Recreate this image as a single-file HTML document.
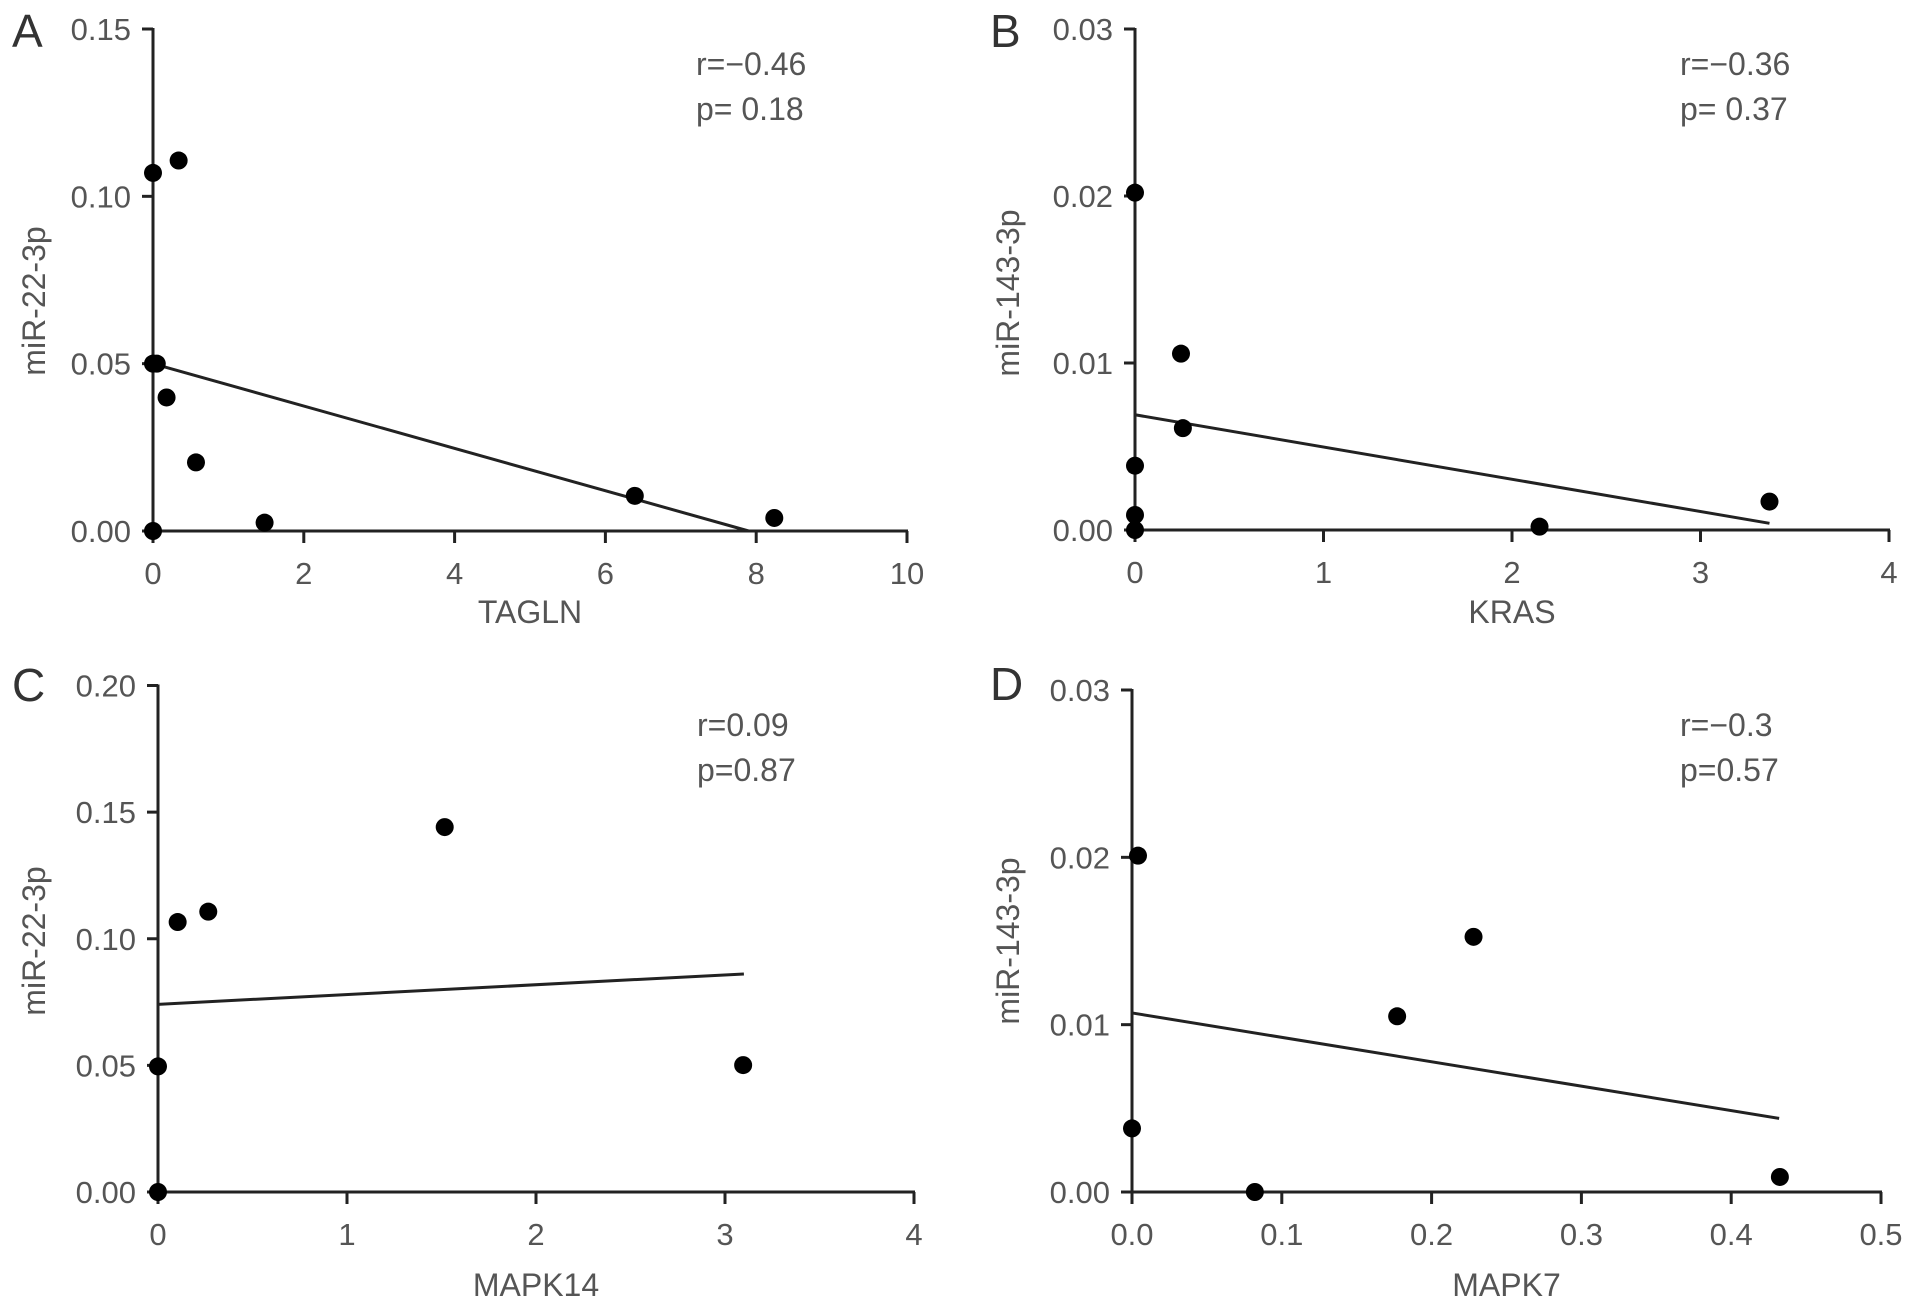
<!DOCTYPE html>
<html><head><meta charset="utf-8">
<style>
html,body{margin:0;padding:0;background:#fff;}
svg{display:block;font-family:"Liberation Sans",sans-serif;}
.tick{font-size:31px;fill:#555;}
.ttl{font-size:32px;fill:#555;}
.stat{font-size:32px;fill:#555;}
.letter{font-size:46px;fill:#333;}
</style></head>
<body>
<svg id="fig" width="1913" height="1305" viewBox="0 0 1913 1305" xmlns="http://www.w3.org/2000/svg"></svg>
<script>
// Panel A data (TAGLN vs miR-22-3p)
const aX = [0.0, 0.34, 0.0, 0.05, 0.18, 0.57, 1.48, 0.0, 6.39, 8.24];
const aY = [0.107, 0.1107, 0.050, 0.050, 0.0399, 0.0205, 0.0025, 0.0, 0.0105, 0.0039];
const aFit = [[0, 0.050], [7.9, 0.0]];
const aXTicks = [0, 2, 4, 6, 8, 10];
const aYTicks = [0.00, 0.05, 0.10, 0.15];
// Panel B data (KRAS vs miR-143-3p)
const bX = [0.0, 0.244, 0.254, 0.0, 0.0, 0.0, 2.146, 3.366];
const bY = [0.0202, 0.01056, 0.0061, 0.00385, 0.0009, 0.0, 0.0002, 0.0017];
const bFit = [[0, 0.0069], [3.366, 0.0004]];
const bXTicks = [0, 1, 2, 3, 4];
const bYTicks = [0.00, 0.01, 0.02, 0.03];
// Panel C data (MAPK14 vs miR-22-3p)
const cX = [0.0, 0.0, 0.104, 0.266, 1.517, 3.096];
const cY = [0.0496, 0.0, 0.1066, 0.1107, 0.1441, 0.0501];
const cFit = [[0, 0.0741], [3.1, 0.0861]];
const cXTicks = [0, 1, 2, 3, 4];
const cYTicks = [0.00, 0.05, 0.10, 0.15, 0.20];
// Panel D data (MAPK7 vs miR-143-3p)
const dX = [0.004, 0.0, 0.082, 0.177, 0.228, 0.4325];
const dY = [0.0201, 0.0038, 0.0, 0.0105, 0.01525, 0.0009];
const dFit = [[0, 0.0107], [0.432, 0.0044]];
const dXTicks = [0.0, 0.1, 0.2, 0.3, 0.4, 0.5];
const dYTicks = [0.00, 0.01, 0.02, 0.03];

const NS = "http://www.w3.org/2000/svg";
const svg = document.getElementById('fig');
function mk(tag, attrs, parent){
  const e = document.createElementNS(NS, tag);
  for (const k in attrs) e.setAttribute(k, attrs[k]);
  (parent||svg).appendChild(e);
  return e;
}
const panels = [
 {id:'a',letter:'A',L:153,T:29,B:531,R:907,xs:aX,ys:aY,fit:aFit,xt:aXTicks,yt:aYTicks,xd:0,yd:2,xmax:10,ymax:0.15,
  lx:12,ly:47,rx:696,ry:75,r:'r=\u22120.46',p:'p= 0.18',ytx:34,yty:301,xtb:623,xtitle:'TAGLN',ytitle:'miR-22-3p'},
 {id:'b',letter:'B',L:1135,T:29,B:530,R:1889,xs:bX,ys:bY,fit:bFit,xt:bXTicks,yt:bYTicks,xd:0,yd:2,xmax:4,ymax:0.03,
  lx:990,ly:47,rx:1680,ry:75,r:'r=\u22120.36',p:'p= 0.37',ytx:1008,yty:293,xtb:623,xtitle:'KRAS',ytitle:'miR-143-3p'},
 {id:'c',letter:'C',L:158,T:685.5,B:1192,R:914,xs:cX,ys:cY,fit:cFit,xt:cXTicks,yt:cYTicks,xd:0,yd:2,xmax:4,ymax:0.20,
  lx:12,ly:701,rx:697,ry:736,r:'r=0.09',p:'p=0.87',ytx:34,yty:941,xtb:1296,xtitle:'MAPK14',ytitle:'miR-22-3p'},
 {id:'d',letter:'D',L:1132,T:690,B:1192,R:1881,xs:dX,ys:dY,fit:dFit,xt:dXTicks,yt:dYTicks,xd:1,yd:2,xmax:0.5,ymax:0.03,
  lx:990,ly:700,rx:1680,ry:736,r:'r=\u22120.3',p:'p=0.57',ytx:1008,yty:941,xtb:1296,xtitle:'MAPK7',ytitle:'miR-143-3p'}
];
panels.forEach(P=>{
  const g = mk('g',{});
  
  
  const sx = v => P.L + v/P.xmax*(P.R-P.L);
  const sy = v => P.B - v/P.ymax*(P.B-P.T);
  const letter = mk('text',{x:P.lx,y:P.ly,class:'letter'},g); letter.textContent=P.letter;
  
  
  const yax = mk('line',{x1:P.L,y1:P.T-1,x2:P.L,y2:P.B,stroke:'#222','stroke-width':3},g);
  
  
  const xax = mk('line',{x1:P.L-1,y1:P.B,x2:P.R+1,y2:P.B,stroke:'#222','stroke-width':3},g);
  
  
  P.yt.forEach(v=>{
    mk('line',{x1:P.L-11,y1:sy(v),x2:P.L,y2:sy(v),stroke:'#222','stroke-width':3},g);
    const t = mk('text',{x:P.L-22,y:sy(v)+11,'text-anchor':'end',class:'tick'},g);
    t.textContent = v.toFixed(P.yd);
    
    
  });
  P.xt.forEach(v=>{
    mk('line',{x1:sx(v),y1:P.B,x2:sx(v),y2:P.B+12,stroke:'#222','stroke-width':3},g);
    const t = mk('text',{x:sx(v),y:P.B+53,'text-anchor':'middle',class:'tick'},g);
    t.textContent = v.toFixed(P.xd);
    
    
  });
  const fl = mk('line',{x1:sx(P.fit[0][0]),y1:sy(P.fit[0][1]),x2:sx(P.fit[1][0]),y2:sy(P.fit[1][1]),stroke:'#222','stroke-width':3},g);
  
  
  P.xs.forEach((x,i)=>{
    const c = mk('circle',{cx:sx(x),cy:sy(P.ys[i]),r:9,fill:'#000'},g);
    
    
  });
  const r = mk('text',{x:P.rx,y:P.ry,class:'stat'},g); r.textContent=P.r;
  
  
  const p = mk('text',{x:P.rx,y:P.ry+45,class:'stat'},g); p.textContent=P.p;
  
  
  const xt = mk('text',{x:(P.L+P.R)/2,y:P.xtb,'text-anchor':'middle',class:'ttl'},g); xt.textContent=P.xtitle;
  
  
  const yt = mk('text',{x:0,y:0,'text-anchor':'middle',class:'ttl',transform:`translate(${P.ytx+11},${P.yty}) rotate(-90)`},g); yt.textContent=P.ytitle;
  
  
});
</script>
</body></html>
